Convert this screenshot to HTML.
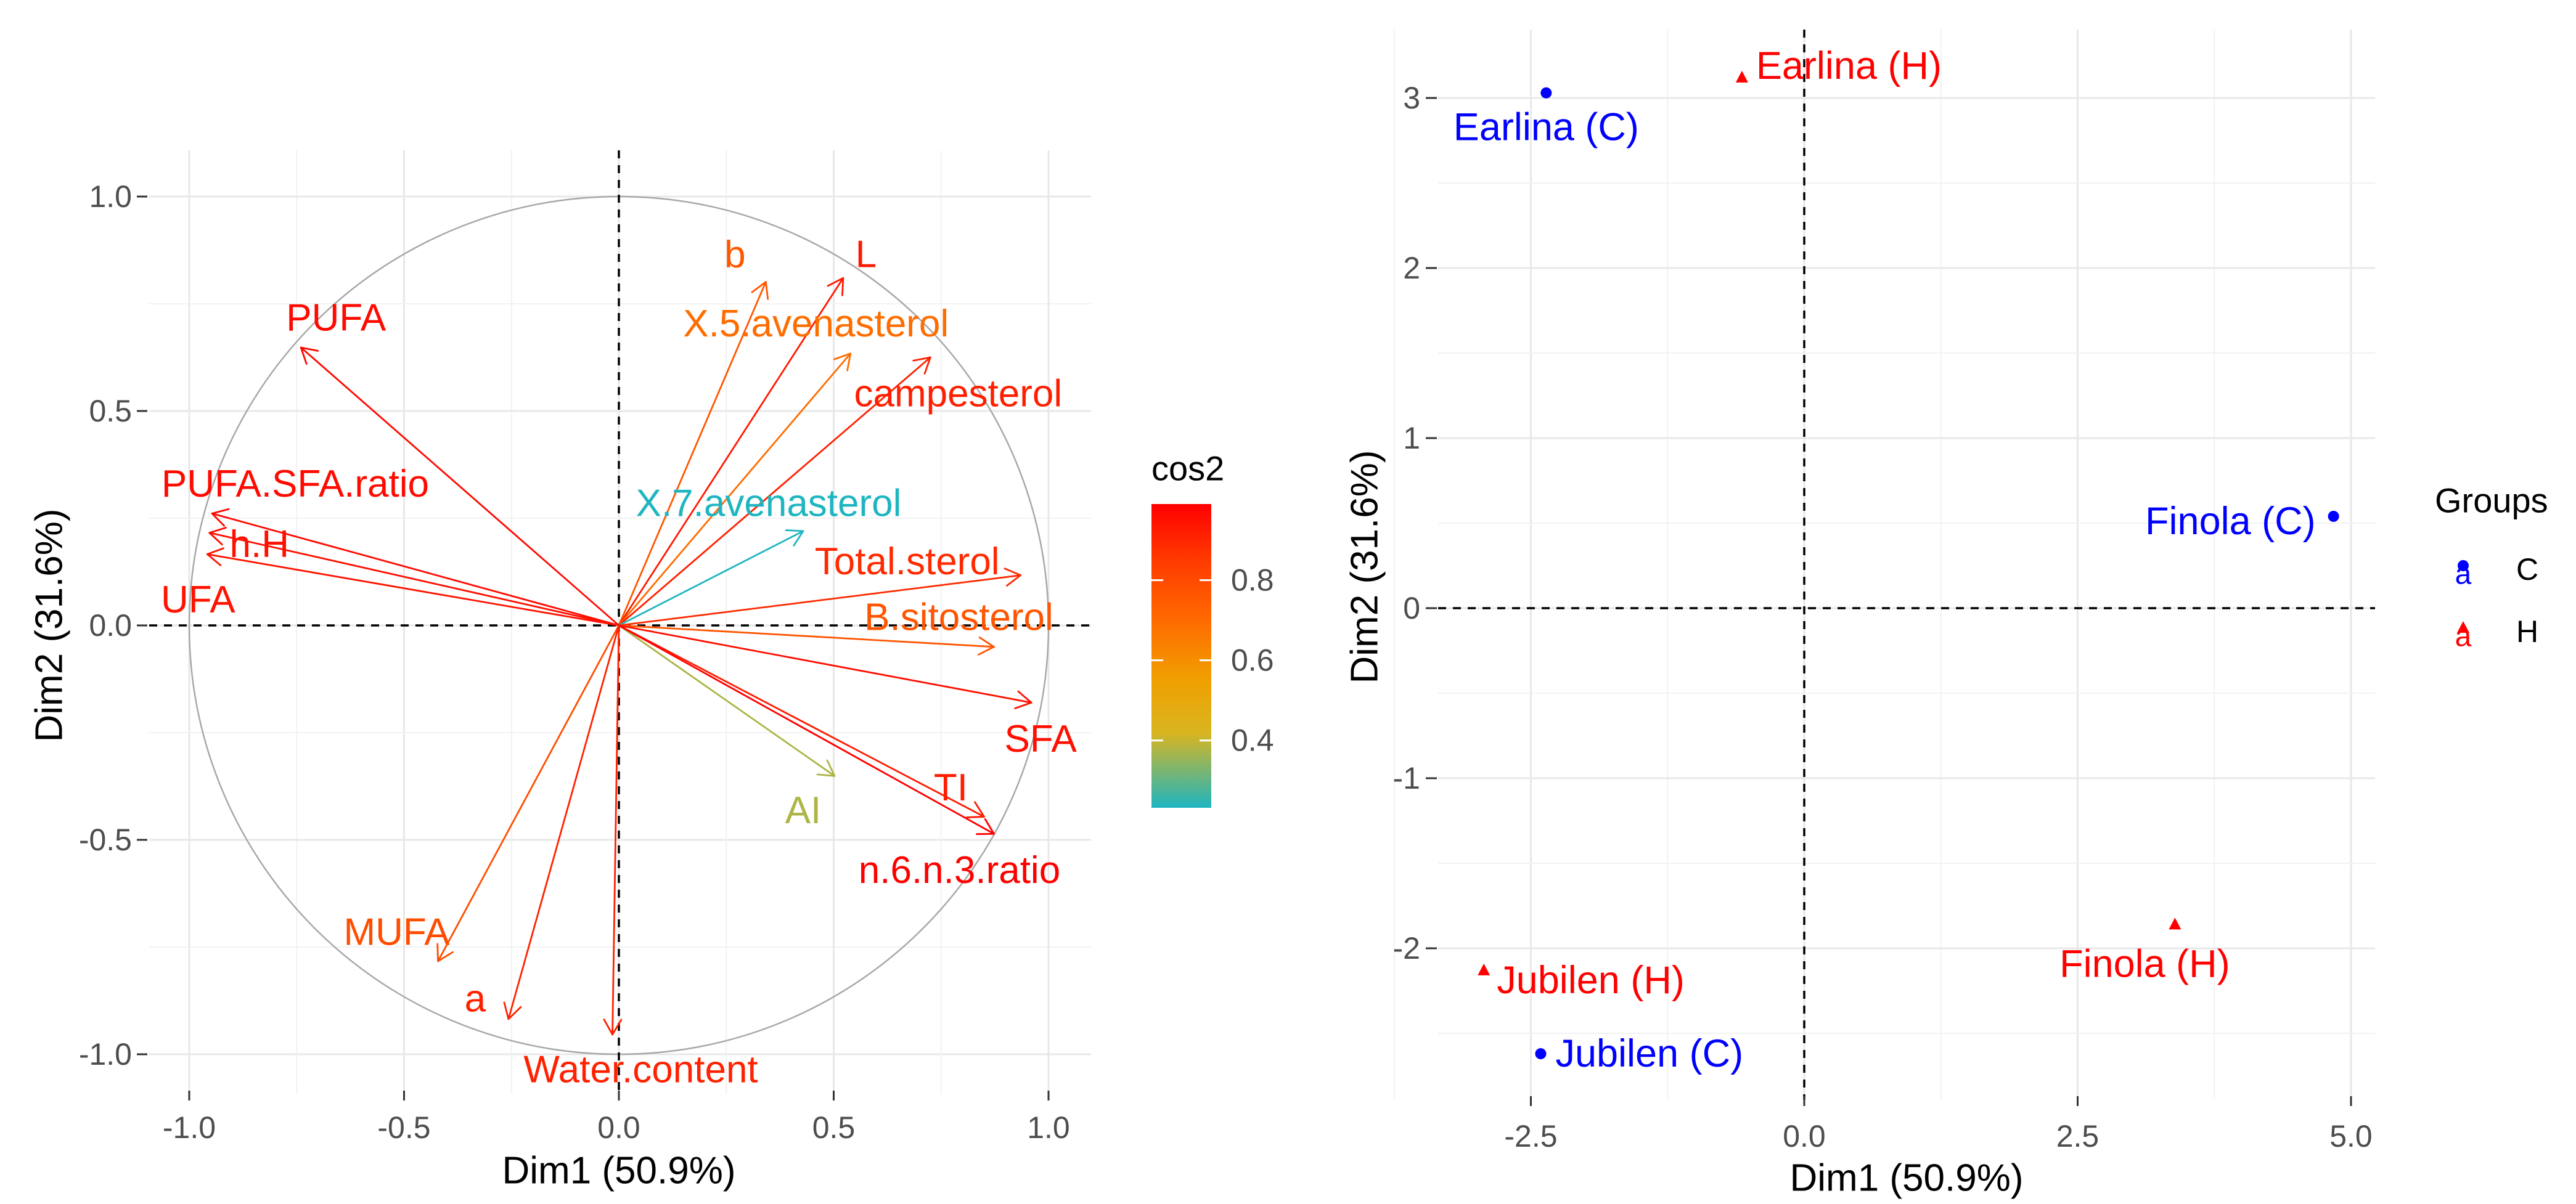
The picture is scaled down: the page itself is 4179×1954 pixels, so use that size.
<!DOCTYPE html>
<html><head><meta charset="utf-8">
<style>
html,body{margin:0;padding:0;background:#fff;}
svg{display:block;font-family:"Liberation Sans",Arial,sans-serif;}
</style></head>
<body>
<svg id="fig" width="4179" height="1954" viewBox="0 0 4179 1954" xmlns="http://www.w3.org/2000/svg">
<g id="left"></g>
<g id="right"></g>
</svg>
<script>
// ---- Left chart data (variable correlation circle) ----
const varNames = ["b","L","X.5.avenasterol","campesterol","PUFA","PUFA.SFA.ratio","h.H","UFA","X.7.avenasterol","Total.sterol","B.sitosterol","SFA","AI","TI","n.6.n.3.ratio","MUFA","a","Water.content"];
const varDim1 = [0.342,0.522,0.539,0.725,-0.740,-0.947,-0.953,-0.958,0.429,0.935,0.873,0.960,0.502,0.850,0.873,-0.421,-0.257,-0.015];
const varDim2 = [0.801,0.810,0.634,0.625,0.648,0.261,0.216,0.166,0.220,0.117,-0.050,-0.180,-0.351,-0.446,-0.486,-0.783,-0.918,-0.954];
const leftTicks = [-1.0,-0.5,0.0,0.5,1.0];
const leftTickLabels = ["-1.0","-0.5","0.0","0.5","1.0"];
const cos2Ticks = [0.4,0.6,0.8];
const cos2TickLabels = ["0.4","0.6","0.8"];
// label layout offsets (pixels, not data)
const labelOffsets = [[-50,-44],[37,-38],[-56,-48],[45,59],[57,-48],[135,-48],[81,19],[-15,74],[-56,-45],[-184,-22],[-57,-48],[15,59],[-51,56],[-54,-47],[-56,59],[-67,-47],[-54,-33],[46,57]];

// ---- Right chart data (individuals) ----
const indNames = ["Earlina (C)","Earlina (H)","Finola (C)","Finola (H)","Jubilen (H)","Jubilen (C)"];
const indDim1 = [-2.36,-0.57,4.84,3.39,-2.93,-2.41];
const indDim2 = [3.03,3.12,0.54,-1.86,-2.13,-2.62];
const indGroup = ["C","H","C","H","H","C"];
const rightXTicks = [-2.5,0.0,2.5,5.0];
const rightXTickLabels = ["-2.5","0.0","2.5","5.0"];
const rightYTicks = [-2,-1,0,1,2,3];
const rightYTickLabels = ["-2","-1","0","1","2","3"];
const indLabelLayout = [["middle",0,56],["start",23,-19],["end",-29,8],["middle",-49,64],["start",21,16],["start",24,0]];

const NS="http://www.w3.org/2000/svg";
function mk(parent,tag,attrs,text){const e=document.createElementNS(NS,tag);for(const k in attrs)e.setAttribute(k,attrs[k]);if(text!==undefined)e.textContent=text;parent.appendChild(e);return e;}

const cStops=[[0.232,[31,181,192]],[0.42,[217,181,32]],[0.55,[240,160,0]],[0.7,[255,106,0]],[0.85,[255,58,0]],[0.99,[255,0,0]]];
function cosColor(v){if(v<=cStops[0][0])return rgb(cStops[0][1]);for(let i=1;i<cStops.length;i++){if(v<=cStops[i][0]){const t=(v-cStops[i-1][0])/(cStops[i][0]-cStops[i-1][0]);const a=cStops[i-1][1],b=cStops[i][1];return rgb([0,1,2].map(j=>a[j]+(b[j]-a[j])*t));}}return rgb(cStops[cStops.length-1][1]);}
function rgb(c){return "rgb("+c.map(Math.round).join(",")+")";}

// ===== LEFT =====
const L=document.getElementById('left');
const lx=v=>1004+697*v, ly=v=>1015-696*v;
const pL=242,pR=1770,pT=244,pB=1776;
for(let v=-1;v<=1.001;v+=0.25){
  const major=Math.abs((v*2)-Math.round(v*2))<1e-6;
  const g1=mk(L,'line',{x1:lx(v),x2:lx(v),y1:pT,y2:pB,stroke:major?'#e8e8e8':'#f2f2f2','stroke-width':major?3:2});
  
  const g2=mk(L,'line',{y1:ly(v),y2:ly(v),x1:pL,x2:pR,stroke:major?'#e8e8e8':'#f2f2f2','stroke-width':major?3:2});
  
}
const circ=mk(L,'ellipse',{cx:lx(0),cy:ly(0),rx:697,ry:696,fill:'none',stroke:'#a8a8a8','stroke-width':2.5});

const hd=mk(L,'line',{x1:pL,x2:pR,y1:ly(0),y2:ly(0),stroke:'#000','stroke-width':3.5,'stroke-dasharray':'13,11'});

const vd=mk(L,'line',{x1:lx(0),x2:lx(0),y1:pT,y2:pB,stroke:'#000','stroke-width':3.5,'stroke-dasharray':'13,11'});


varNames.forEach((n,i)=>{
  const x=varDim1[i],y=varDim2[i];const col=cosColor(x*x+y*y);
  const g=mk(L,'g',{});
  
  
  const x0=lx(0),y0=ly(0),x1=lx(x),y1=ly(y);
  mk(g,'line',{x1:x0,y1:y0,x2:x1,y2:y1,stroke:col,'stroke-width':2.8});
  const ang=Math.atan2(y1-y0,x1-x0),hl=28;
  [Math.PI/6,-Math.PI/6].forEach(d=>{mk(g,'line',{x1:x1,y1:y1,x2:x1-hl*Math.cos(ang+d),y2:y1-hl*Math.sin(ang+d),stroke:col,'stroke-width':2.8,'stroke-linecap':'round'});});
  const t=mk(L,'text',{x:x1+labelOffsets[i][0],y:y1+labelOffsets[i][1],'text-anchor':'middle','dominant-baseline':'central','font-size':62,fill:col},n);
  
  
});
leftTicks.forEach((v,i)=>{
  const a=mk(L,'line',{x1:lx(v),x2:lx(v),y1:pB-6,y2:pB+10,stroke:'#333','stroke-width':3});
  
  const t=mk(L,'text',{x:lx(v),y:1830,'text-anchor':'middle','dominant-baseline':'central','font-size':50,fill:'#4d4d4d'},leftTickLabels[i]);
  
  const b=mk(L,'line',{x1:222,x2:239,y1:ly(v),y2:ly(v),stroke:'#333','stroke-width':3});
  
  const u=mk(L,'text',{x:214,y:ly(v),'text-anchor':'end','dominant-baseline':'central','font-size':50,fill:'#4d4d4d'},leftTickLabels[i]);
  
});
let xt=mk(L,'text',{x:1004,y:1900,'text-anchor':'middle','dominant-baseline':'central','font-size':62,fill:'#000'},'Dim1 (50.9%)');

let yt=mk(L,'text',{x:0,y:0,transform:'translate(80,1015) rotate(-90)','text-anchor':'middle','dominant-baseline':'central','font-size':62,fill:'#000'},'Dim2 (31.6%)');


const defs=mk(document.getElementById('fig'),'defs',{});
const grad=mk(defs,'linearGradient',{id:'cg',x1:0,y1:1,x2:0,y2:0});
const cbTop=818,cbBot=1311,vTop=0.99,vBot=0.232;
cStops.forEach(s=>mk(grad,'stop',{offset:((s[0]-vBot)/(vTop-vBot)),'stop-color':rgb(s[1])}));
const cbY=v=>cbBot-(v-vBot)/(vTop-vBot)*(cbBot-cbTop);
const cb=mk(L,'rect',{x:1868,y:cbTop,width:97,height:cbBot-cbTop,fill:'url(#cg)'});

const ct=mk(L,'text',{x:1868,y:760,'dominant-baseline':'central','font-size':56,fill:'#000'},'cos2');

cos2Ticks.forEach((v,i)=>{
  mk(L,'line',{x1:1868,x2:1887,y1:cbY(v),y2:cbY(v),stroke:'#fff','stroke-width':3});
  mk(L,'line',{x1:1946,x2:1965,y1:cbY(v),y2:cbY(v),stroke:'#fff','stroke-width':3});
  const t=mk(L,'text',{x:1997,y:cbY(v),'dominant-baseline':'central','font-size':50,fill:'#4d4d4d'},cos2TickLabels[i]);
  
});

// ===== RIGHT =====
const R=document.getElementById('right');
const rx=v=>2927+177.4*v, ry=v=>987-276*v;
const qL=2333,qR=3853,qT=48,qB=1785;
for(let v=-3.75;v<=5.01;v+=1.25){
  const major=Math.abs(v/2.5-Math.round(v/2.5))<1e-6;
  const g=mk(R,'line',{x1:rx(v),x2:rx(v),y1:qT,y2:qB,stroke:major?'#e8e8e8':'#f2f2f2','stroke-width':major?3:2});
  
}
for(let v=-2.5;v<=3.01;v+=0.5){
  const major=Math.abs(v-Math.round(v))<1e-6;
  const g=mk(R,'line',{y1:ry(v),y2:ry(v),x1:qL,x2:qR,stroke:major?'#e8e8e8':'#f2f2f2','stroke-width':major?3:2});
  
}
const rh=mk(R,'line',{x1:qL,x2:qR,y1:ry(0),y2:ry(0),stroke:'#000','stroke-width':3.5,'stroke-dasharray':'13,11'});

const rv=mk(R,'line',{x1:rx(0),x2:rx(0),y1:qT,y2:qB,stroke:'#000','stroke-width':3.5,'stroke-dasharray':'13,11'});

function marker(parent,g,x,y){
  if(g==='C'){return mk(parent,'circle',{cx:x,cy:y,r:9,fill:'#0000ff'});}
  return mk(parent,'polygon',{points:(x)+','+(y-11)+' '+(x-10)+','+(y+8)+' '+(x+10)+','+(y+8),fill:'#ff0000'});
}
indNames.forEach((n,i)=>{
  const x=rx(indDim1[i]),y=ry(indDim2[i]);const col=indGroup[i]==='C'?'#0000ff':'#ff0000';
  const m=marker(R,indGroup[i],x,y);
  
  
  const lay=indLabelLayout[i];
  const t=mk(R,'text',{x:x+lay[1],y:y+lay[2],'text-anchor':lay[0],'dominant-baseline':'central','font-size':63,fill:col},n);
  
  
});
rightXTicks.forEach((v,i)=>{
  const a=mk(R,'line',{x1:rx(v),x2:rx(v),y1:qB-6,y2:qB+10,stroke:'#333','stroke-width':3});
  
  const t=mk(R,'text',{x:rx(v),y:1844,'text-anchor':'middle','dominant-baseline':'central','font-size':50,fill:'#4d4d4d'},rightXTickLabels[i]);
  
});
rightYTicks.forEach((v,i)=>{
  const a=mk(R,'line',{x1:2313,x2:2331,y1:ry(v),y2:ry(v),stroke:'#333','stroke-width':3});
  
  const t=mk(R,'text',{x:2304,y:ry(v),'text-anchor':'end','dominant-baseline':'central','font-size':50,fill:'#4d4d4d'},rightYTickLabels[i]);
  
});
xt=mk(R,'text',{x:3093,y:1912,'text-anchor':'middle','dominant-baseline':'central','font-size':62,fill:'#000'},'Dim1 (50.9%)');

yt=mk(R,'text',{x:0,y:0,transform:'translate(2214,920) rotate(-90)','text-anchor':'middle','dominant-baseline':'central','font-size':62,fill:'#000'},'Dim2 (31.6%)');

const gt=mk(R,'text',{x:3950,y:812,'dominant-baseline':'central','font-size':56,fill:'#000'},'Groups');

[["C","#0000ff",924],["H","#ff0000",1025]].forEach(e=>{
  const g=mk(R,'g',{});
  
  
  mk(g,'text',{x:3996,y:e[2]+8,'text-anchor':'middle','dominant-baseline':'central','font-size':48,fill:e[1]},'a');
  marker(g,e[0],3996,e[2]-6);
  mk(g,'text',{x:4082,y:e[2],'dominant-baseline':'central','font-size':50,fill:'#000'},e[0]);
});
</script>
</body></html>
